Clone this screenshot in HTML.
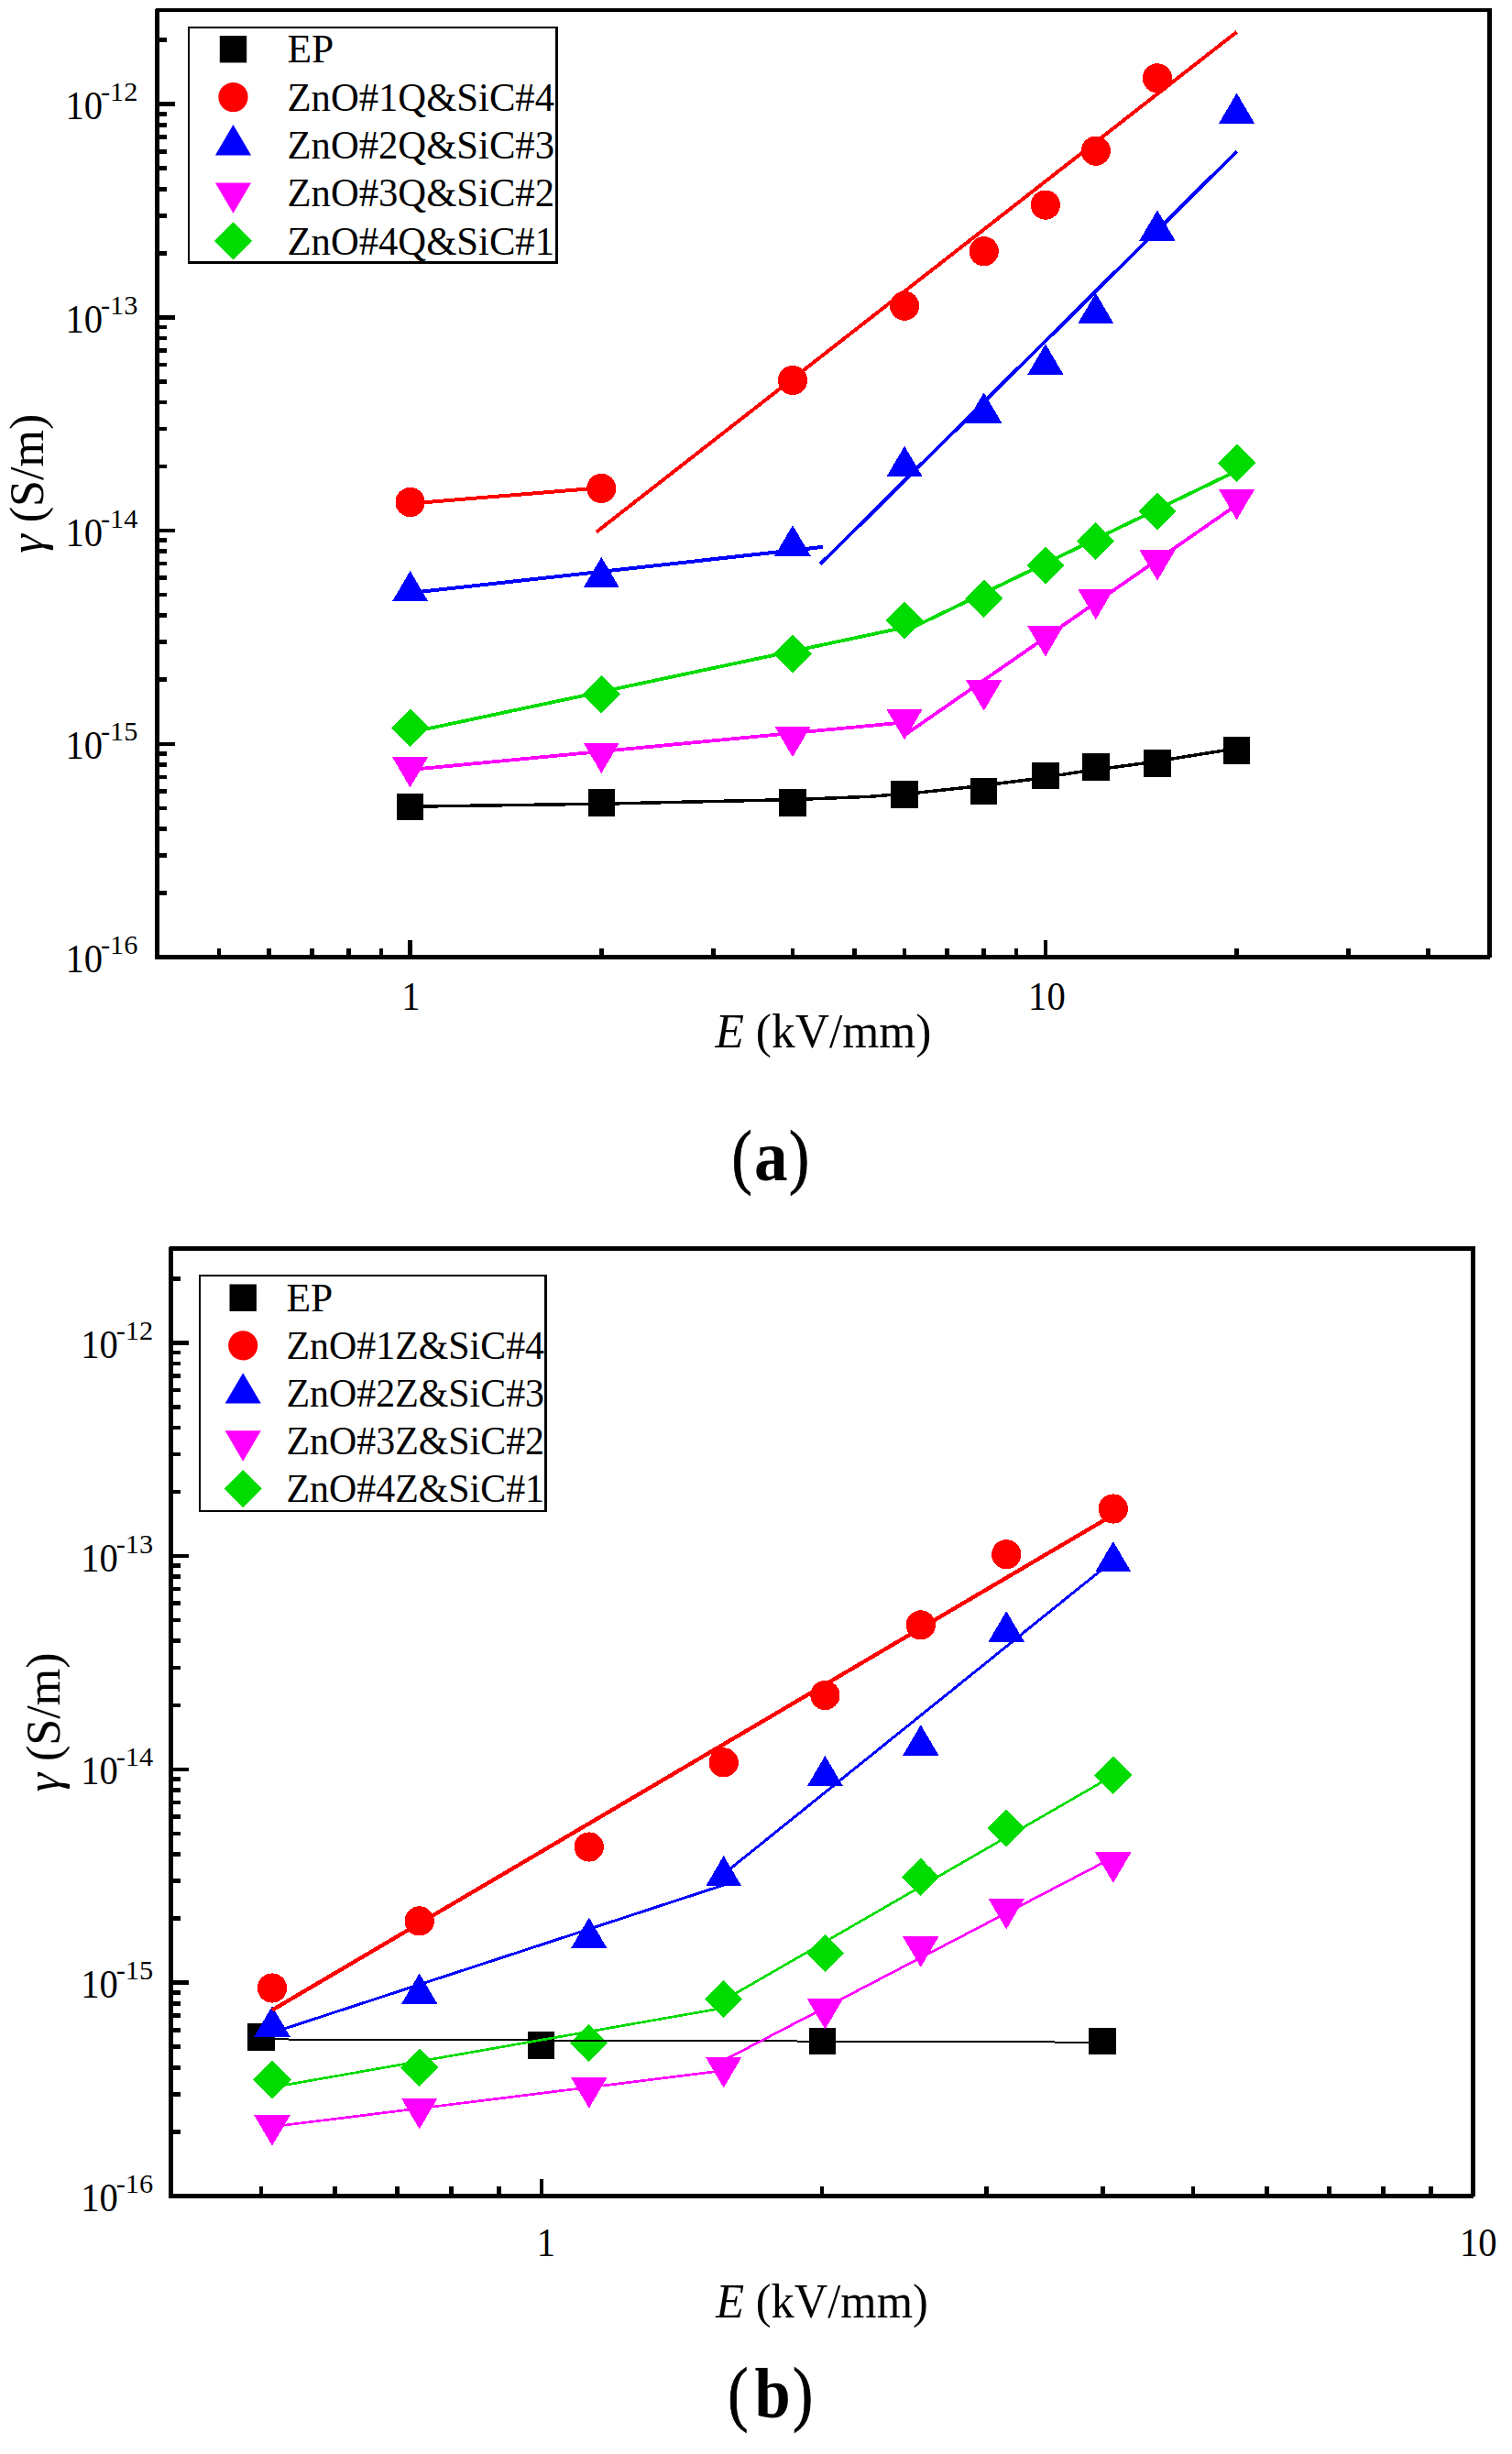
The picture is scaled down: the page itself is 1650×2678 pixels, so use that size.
<!DOCTYPE html>
<html lang="en">
<head>
<meta charset="utf-8">
<title>Conductivity vs electric field</title>
<style>
html,body{margin:0;padding:0;background:#fff;}
body{width:1650px;height:2678px;overflow:hidden;}
svg{display:block;}
svg text{font-family:"Liberation Serif", "Times New Roman", serif;fill:#000;}
</style>
</head>
<body>
<svg width="1650" height="2678" viewBox="0 0 1650 2678">
<rect width="1650" height="2678" fill="#fff"/>
<g id="plot-a">
<g shape-rendering="crispEdges">
<rect x="432.9" y="865.7" width="29.4" height="29.4" fill="#000000"/>
<rect x="641.6" y="861.3" width="29.4" height="29.4" fill="#000000"/>
<rect x="850.31" y="861.3" width="29.4" height="29.4" fill="#000000"/>
<rect x="972.39" y="852.3" width="29.4" height="29.4" fill="#000000"/>
<rect x="1059.01" y="848.6" width="29.4" height="29.4" fill="#000000"/>
<rect x="1126.2" y="832" width="29.4" height="29.4" fill="#000000"/>
<rect x="1181.1" y="822.3" width="29.4" height="29.4" fill="#000000"/>
<rect x="1248.28" y="818.4" width="29.4" height="29.4" fill="#000000"/>
<rect x="1334.9" y="804.4" width="29.4" height="29.4" fill="#000000"/>
<circle cx="447.6" cy="548" r="16.1" fill="#ff0000"/>
<circle cx="656.3" cy="533" r="16.1" fill="#ff0000"/>
<circle cx="865.01" cy="415" r="16.1" fill="#ff0000"/>
<circle cx="987.09" cy="333.7" r="16.1" fill="#ff0000"/>
<circle cx="1073.71" cy="274.2" r="16.1" fill="#ff0000"/>
<circle cx="1140.9" cy="223.6" r="16.1" fill="#ff0000"/>
<circle cx="1195.8" cy="164.7" r="16.1" fill="#ff0000"/>
<circle cx="1262.98" cy="85.3" r="16.1" fill="#ff0000"/>
<polygon points="447.6,622.93 428,656.33 467.2,656.33" fill="#0000ff"/>
<polygon points="656.3,607.83 636.7,641.23 675.9,641.23" fill="#0000ff"/>
<polygon points="865.01,573.13 845.41,606.53 884.61,606.53" fill="#0000ff"/>
<polygon points="987.09,486.73 967.49,520.13 1006.69,520.13" fill="#0000ff"/>
<polygon points="1073.71,428.23 1054.11,461.63 1093.31,461.63" fill="#0000ff"/>
<polygon points="1140.9,375.33 1121.3,408.73 1160.5,408.73" fill="#0000ff"/>
<polygon points="1195.8,319.73 1176.2,353.13 1215.4,353.13" fill="#0000ff"/>
<polygon points="1262.98,229.23 1243.38,262.63 1282.58,262.63" fill="#0000ff"/>
<polygon points="1349.6,101.43 1330,134.83 1369.2,134.83" fill="#0000ff"/>
<polygon points="447.6,859.47 428,826.07 467.2,826.07" fill="#ff00ff"/>
<polygon points="656.3,843.97 636.7,810.57 675.9,810.57" fill="#ff00ff"/>
<polygon points="865.01,826.17 845.41,792.77 884.61,792.77" fill="#ff00ff"/>
<polygon points="987.09,807.47 967.49,774.07 1006.69,774.07" fill="#ff00ff"/>
<polygon points="1073.71,775.77 1054.11,742.37 1093.31,742.37" fill="#ff00ff"/>
<polygon points="1140.9,716.57 1121.3,683.17 1160.5,683.17" fill="#ff00ff"/>
<polygon points="1195.8,676.17 1176.2,642.77 1215.4,642.77" fill="#ff00ff"/>
<polygon points="1262.98,633.67 1243.38,600.27 1282.58,600.27" fill="#ff00ff"/>
<polygon points="1349.6,567.37 1330,533.97 1369.2,533.97" fill="#ff00ff"/>
<polygon points="447.6,773.6 468.2,794.2 447.6,814.8 427,794.2" fill="#00dc00"/>
<polygon points="656.3,737.3 676.9,757.9 656.3,778.5 635.7,757.9" fill="#00dc00"/>
<polygon points="865.01,692.9 885.61,713.5 865.01,734.1 844.41,713.5" fill="#00dc00"/>
<polygon points="987.09,656.4 1007.69,677 987.09,697.6 966.49,677" fill="#00dc00"/>
<polygon points="1073.71,632.6 1094.31,653.2 1073.71,673.8 1053.11,653.2" fill="#00dc00"/>
<polygon points="1140.9,596.5 1161.5,617.1 1140.9,637.7 1120.3,617.1" fill="#00dc00"/>
<polygon points="1195.8,569.9 1216.4,590.5 1195.8,611.1 1175.2,590.5" fill="#00dc00"/>
<polygon points="1262.98,537.3 1283.58,557.9 1262.98,578.5 1242.38,557.9" fill="#00dc00"/>
<polygon points="1349.6,484.6 1370.2,505.2 1349.6,525.8 1329,505.2" fill="#00dc00"/>
<polyline fill="none" stroke="#000000" stroke-width="3.5" stroke-linejoin="round" stroke-linecap="butt" points="447.6,880.2 656.3,877.2 864.9,872.6 950,869.3 1003.6,864.8 1058.6,858.9 1125.6,850.5 1182.1,841.8 1247.6,833 1333.9,819.3 1349.6,816.6"/>
<polyline fill="none" stroke="#ff0000" stroke-width="4" stroke-linejoin="round" stroke-linecap="butt" points="447.6,549.5 656.3,532.3"/>
<polyline fill="none" stroke="#ff0000" stroke-width="4" stroke-linejoin="round" stroke-linecap="butt" points="650.8,580.6 1349.6,34.9"/>
<polyline fill="none" stroke="#0000ff" stroke-width="4" stroke-linejoin="round" stroke-linecap="butt" points="447.6,647 897.9,596.9"/>
<polyline fill="none" stroke="#0000ff" stroke-width="4" stroke-linejoin="round" stroke-linecap="butt" points="895.2,615.6 1349.6,165.5"/>
<polyline fill="none" stroke="#ff00ff" stroke-width="3.8" stroke-linejoin="round" stroke-linecap="butt" points="447.6,840 987.1,788.3"/>
<polyline fill="none" stroke="#ff00ff" stroke-width="3.8" stroke-linejoin="round" stroke-linecap="butt" points="987.1,802.3 1349.6,551"/>
<polyline fill="none" stroke="#00dc00" stroke-width="3.8" stroke-linejoin="round" stroke-linecap="butt" points="447.6,799.3 987.1,684.7"/>
<polyline fill="none" stroke="#00dc00" stroke-width="3.8" stroke-linejoin="round" stroke-linecap="butt" points="987.1,689.1 1349.6,513.9"/>
</g>
<g shape-rendering="crispEdges">
<rect x="169" y="10" width="5" height="1037" fill="#000000"/>
<rect x="1623" y="9" width="5" height="1036" fill="#000000"/>
<rect x="170" y="9" width="1458" height="4" fill="#000000"/>
<rect x="169" y="1042" width="1457" height="5" fill="#000000"/>
<line x1="171.5" y1="974.45" x2="182" y2="974.45" stroke="#000000" stroke-width="4.6" stroke-linecap="butt"/>
<line x1="171.5" y1="933.47" x2="182" y2="933.47" stroke="#000000" stroke-width="4.6" stroke-linecap="butt"/>
<line x1="171.5" y1="904.4" x2="182" y2="904.4" stroke="#000000" stroke-width="4.6" stroke-linecap="butt"/>
<line x1="171.5" y1="881.85" x2="182" y2="881.85" stroke="#000000" stroke-width="4.6" stroke-linecap="butt"/>
<line x1="171.5" y1="863.42" x2="182" y2="863.42" stroke="#000000" stroke-width="4.6" stroke-linecap="butt"/>
<line x1="171.5" y1="847.85" x2="182" y2="847.85" stroke="#000000" stroke-width="4.6" stroke-linecap="butt"/>
<line x1="171.5" y1="834.35" x2="182" y2="834.35" stroke="#000000" stroke-width="4.6" stroke-linecap="butt"/>
<line x1="171.5" y1="822.45" x2="182" y2="822.45" stroke="#000000" stroke-width="4.6" stroke-linecap="butt"/>
<line x1="171.5" y1="811.8" x2="191" y2="811.8" stroke="#000000" stroke-width="4.6" stroke-linecap="butt"/>
<line x1="171.5" y1="741.75" x2="182" y2="741.75" stroke="#000000" stroke-width="4.6" stroke-linecap="butt"/>
<line x1="171.5" y1="700.77" x2="182" y2="700.77" stroke="#000000" stroke-width="4.6" stroke-linecap="butt"/>
<line x1="171.5" y1="671.7" x2="182" y2="671.7" stroke="#000000" stroke-width="4.6" stroke-linecap="butt"/>
<line x1="171.5" y1="649.15" x2="182" y2="649.15" stroke="#000000" stroke-width="4.6" stroke-linecap="butt"/>
<line x1="171.5" y1="630.72" x2="182" y2="630.72" stroke="#000000" stroke-width="4.6" stroke-linecap="butt"/>
<line x1="171.5" y1="615.15" x2="182" y2="615.15" stroke="#000000" stroke-width="4.6" stroke-linecap="butt"/>
<line x1="171.5" y1="601.65" x2="182" y2="601.65" stroke="#000000" stroke-width="4.6" stroke-linecap="butt"/>
<line x1="171.5" y1="589.75" x2="182" y2="589.75" stroke="#000000" stroke-width="4.6" stroke-linecap="butt"/>
<line x1="171.5" y1="579.1" x2="191" y2="579.1" stroke="#000000" stroke-width="4.6" stroke-linecap="butt"/>
<line x1="171.5" y1="509.05" x2="182" y2="509.05" stroke="#000000" stroke-width="4.6" stroke-linecap="butt"/>
<line x1="171.5" y1="468.07" x2="182" y2="468.07" stroke="#000000" stroke-width="4.6" stroke-linecap="butt"/>
<line x1="171.5" y1="439" x2="182" y2="439" stroke="#000000" stroke-width="4.6" stroke-linecap="butt"/>
<line x1="171.5" y1="416.45" x2="182" y2="416.45" stroke="#000000" stroke-width="4.6" stroke-linecap="butt"/>
<line x1="171.5" y1="398.02" x2="182" y2="398.02" stroke="#000000" stroke-width="4.6" stroke-linecap="butt"/>
<line x1="171.5" y1="382.45" x2="182" y2="382.45" stroke="#000000" stroke-width="4.6" stroke-linecap="butt"/>
<line x1="171.5" y1="368.95" x2="182" y2="368.95" stroke="#000000" stroke-width="4.6" stroke-linecap="butt"/>
<line x1="171.5" y1="357.05" x2="182" y2="357.05" stroke="#000000" stroke-width="4.6" stroke-linecap="butt"/>
<line x1="171.5" y1="346.4" x2="191" y2="346.4" stroke="#000000" stroke-width="4.6" stroke-linecap="butt"/>
<line x1="171.5" y1="276.35" x2="182" y2="276.35" stroke="#000000" stroke-width="4.6" stroke-linecap="butt"/>
<line x1="171.5" y1="235.37" x2="182" y2="235.37" stroke="#000000" stroke-width="4.6" stroke-linecap="butt"/>
<line x1="171.5" y1="206.3" x2="182" y2="206.3" stroke="#000000" stroke-width="4.6" stroke-linecap="butt"/>
<line x1="171.5" y1="183.75" x2="182" y2="183.75" stroke="#000000" stroke-width="4.6" stroke-linecap="butt"/>
<line x1="171.5" y1="165.32" x2="182" y2="165.32" stroke="#000000" stroke-width="4.6" stroke-linecap="butt"/>
<line x1="171.5" y1="149.75" x2="182" y2="149.75" stroke="#000000" stroke-width="4.6" stroke-linecap="butt"/>
<line x1="171.5" y1="136.25" x2="182" y2="136.25" stroke="#000000" stroke-width="4.6" stroke-linecap="butt"/>
<line x1="171.5" y1="124.35" x2="182" y2="124.35" stroke="#000000" stroke-width="4.6" stroke-linecap="butt"/>
<line x1="171.5" y1="113.7" x2="191" y2="113.7" stroke="#000000" stroke-width="4.6" stroke-linecap="butt"/>
<line x1="171.5" y1="43.65" x2="182" y2="43.65" stroke="#000000" stroke-width="4.6" stroke-linecap="butt"/>
<line x1="238.9" y1="1044.5" x2="238.9" y2="1035" stroke="#000000" stroke-width="4.6" stroke-linecap="butt"/>
<line x1="293.79" y1="1044.5" x2="293.79" y2="1035" stroke="#000000" stroke-width="4.6" stroke-linecap="butt"/>
<line x1="340.21" y1="1044.5" x2="340.21" y2="1035" stroke="#000000" stroke-width="4.6" stroke-linecap="butt"/>
<line x1="380.41" y1="1044.5" x2="380.41" y2="1035" stroke="#000000" stroke-width="4.6" stroke-linecap="butt"/>
<line x1="415.88" y1="1044.5" x2="415.88" y2="1035" stroke="#000000" stroke-width="4.6" stroke-linecap="butt"/>
<line x1="447.6" y1="1044.5" x2="447.6" y2="1026" stroke="#000000" stroke-width="4.6" stroke-linecap="butt"/>
<line x1="656.3" y1="1044.5" x2="656.3" y2="1035" stroke="#000000" stroke-width="4.6" stroke-linecap="butt"/>
<line x1="778.39" y1="1044.5" x2="778.39" y2="1035" stroke="#000000" stroke-width="4.6" stroke-linecap="butt"/>
<line x1="865.01" y1="1044.5" x2="865.01" y2="1035" stroke="#000000" stroke-width="4.6" stroke-linecap="butt"/>
<line x1="932.2" y1="1044.5" x2="932.2" y2="1035" stroke="#000000" stroke-width="4.6" stroke-linecap="butt"/>
<line x1="987.09" y1="1044.5" x2="987.09" y2="1035" stroke="#000000" stroke-width="4.6" stroke-linecap="butt"/>
<line x1="1033.51" y1="1044.5" x2="1033.51" y2="1035" stroke="#000000" stroke-width="4.6" stroke-linecap="butt"/>
<line x1="1073.71" y1="1044.5" x2="1073.71" y2="1035" stroke="#000000" stroke-width="4.6" stroke-linecap="butt"/>
<line x1="1109.18" y1="1044.5" x2="1109.18" y2="1035" stroke="#000000" stroke-width="4.6" stroke-linecap="butt"/>
<line x1="1140.9" y1="1044.5" x2="1140.9" y2="1026" stroke="#000000" stroke-width="4.6" stroke-linecap="butt"/>
<line x1="1349.6" y1="1044.5" x2="1349.6" y2="1035" stroke="#000000" stroke-width="4.6" stroke-linecap="butt"/>
<line x1="1471.69" y1="1044.5" x2="1471.69" y2="1035" stroke="#000000" stroke-width="4.6" stroke-linecap="butt"/>
<line x1="1558.31" y1="1044.5" x2="1558.31" y2="1035" stroke="#000000" stroke-width="4.6" stroke-linecap="butt"/>
</g>
<text x="71.5" y="1060.9" font-size="43.5" text-anchor="start" textLength="40.6" lengthAdjust="spacingAndGlyphs">10</text>
<text x="109.9" y="1041" font-size="29.3" text-anchor="start" textLength="40.4" lengthAdjust="spacingAndGlyphs">-16</text>
<text x="71.5" y="828.2" font-size="43.5" text-anchor="start" textLength="40.6" lengthAdjust="spacingAndGlyphs">10</text>
<text x="109.9" y="808.3" font-size="29.3" text-anchor="start" textLength="40.4" lengthAdjust="spacingAndGlyphs">-15</text>
<text x="71.5" y="595.5" font-size="43.5" text-anchor="start" textLength="40.6" lengthAdjust="spacingAndGlyphs">10</text>
<text x="109.9" y="575.6" font-size="29.3" text-anchor="start" textLength="40.4" lengthAdjust="spacingAndGlyphs">-14</text>
<text x="71.5" y="362.8" font-size="43.5" text-anchor="start" textLength="40.6" lengthAdjust="spacingAndGlyphs">10</text>
<text x="109.9" y="342.9" font-size="29.3" text-anchor="start" textLength="40.4" lengthAdjust="spacingAndGlyphs">-13</text>
<text x="71.5" y="130.1" font-size="43.5" text-anchor="start" textLength="40.6" lengthAdjust="spacingAndGlyphs">10</text>
<text x="109.9" y="110.2" font-size="29.3" text-anchor="start" textLength="40.4" lengthAdjust="spacingAndGlyphs">-12</text>
<text x="448.4" y="1102.4" font-size="43.5" text-anchor="middle" textLength="20.3" lengthAdjust="spacingAndGlyphs">1</text>
<text x="1142.4" y="1102.4" font-size="43.5" text-anchor="middle" textLength="40.6" lengthAdjust="spacingAndGlyphs">10</text>
<text x="898.5" y="1142.9" font-size="52" text-anchor="middle" textLength="236" lengthAdjust="spacingAndGlyphs"><tspan font-style="italic">E</tspan> (kV/mm)</text>
<text transform="translate(47,527.75) rotate(-90)" font-size="52" text-anchor="middle"><tspan font-style="italic">γ</tspan> (S/m)</text>
<g shape-rendering="crispEdges">
<rect x="205" y="29" width="404" height="259" fill="#000000"/>
<rect x="207" y="31" width="399" height="254" fill="#fff"/>
</g>
<rect x="239.8" y="39" width="29.4" height="29.4" fill="#000000"/>
<text x="313.5" y="68.3" font-size="43.5" text-anchor="start">EP</text>
<circle cx="254.5" cy="106" r="16.1" fill="#ff0000"/>
<text x="313.5" y="120.6" font-size="43.5" text-anchor="start" textLength="291.5" lengthAdjust="spacingAndGlyphs">ZnO#1Q&amp;SiC#4</text>
<polygon points="254.5,136.03 234.9,169.43 274.1,169.43" fill="#0000ff"/>
<text x="313.5" y="172.9" font-size="43.5" text-anchor="start" textLength="291.5" lengthAdjust="spacingAndGlyphs">ZnO#2Q&amp;SiC#3</text>
<polygon points="254.5,232.87 234.9,199.47 274.1,199.47" fill="#ff00ff"/>
<text x="313.5" y="225.2" font-size="43.5" text-anchor="start" textLength="291.5" lengthAdjust="spacingAndGlyphs">ZnO#3Q&amp;SiC#2</text>
<polygon points="254.5,242.3 275.1,262.9 254.5,283.5 233.9,262.9" fill="#00dc00"/>
<text x="313.5" y="277.5" font-size="43.5" text-anchor="start" textLength="291.5" lengthAdjust="spacingAndGlyphs">ZnO#4Q&amp;SiC#1</text>
</g>
<text x="798.5" y="1287.7" font-size="78" text-anchor="start" textLength="22.2" lengthAdjust="spacingAndGlyphs" stroke="#000" stroke-width="0.9">(</text>
<text x="823" y="1287.7" font-size="78" text-anchor="start" font-weight="bold" textLength="36.6" lengthAdjust="spacingAndGlyphs">a</text>
<text x="861" y="1287.7" font-size="78" text-anchor="start" textLength="22.2" lengthAdjust="spacingAndGlyphs" stroke="#000" stroke-width="0.9">)</text>
<g id="plot-b">
<g shape-rendering="crispEdges">
<rect x="270.4" y="2208.2" width="29.4" height="29.4" fill="#000000"/>
<rect x="575.8" y="2217.3" width="29.4" height="29.4" fill="#000000"/>
<rect x="882.7" y="2212.7" width="29.4" height="29.4" fill="#000000"/>
<rect x="1188.3" y="2212.7" width="29.4" height="29.4" fill="#000000"/>
<circle cx="297" cy="2169.5" r="16.1" fill="#ff0000"/>
<circle cx="457.7" cy="2096.4" r="16.1" fill="#ff0000"/>
<circle cx="642.8" cy="2015.5" r="16.1" fill="#ff0000"/>
<circle cx="789.7" cy="1923.4" r="16.1" fill="#ff0000"/>
<circle cx="900.4" cy="1850" r="16.1" fill="#ff0000"/>
<circle cx="1004.8" cy="1773.4" r="16.1" fill="#ff0000"/>
<circle cx="1098.2" cy="1696.3" r="16.1" fill="#ff0000"/>
<circle cx="1214.8" cy="1646.5" r="16.1" fill="#ff0000"/>
<polygon points="297,2189.13 277.4,2222.53 316.6,2222.53" fill="#0000ff"/>
<polygon points="457.7,2153.43 438.1,2186.83 477.3,2186.83" fill="#0000ff"/>
<polygon points="642.8,2092.53 623.2,2125.93 662.4,2125.93" fill="#0000ff"/>
<polygon points="789.7,2025.03 770.1,2058.43 809.3,2058.43" fill="#0000ff"/>
<polygon points="900.4,1915.93 880.8,1949.33 920,1949.33" fill="#0000ff"/>
<polygon points="1004.8,1882.23 985.2,1915.63 1024.4,1915.63" fill="#0000ff"/>
<polygon points="1098.2,1758.13 1078.6,1791.53 1117.8,1791.53" fill="#0000ff"/>
<polygon points="1214.8,1682.03 1195.2,1715.43 1234.4,1715.43" fill="#0000ff"/>
<polygon points="297,2341.77 277.4,2308.37 316.6,2308.37" fill="#ff00ff"/>
<polygon points="457.7,2323.47 438.1,2290.07 477.3,2290.07" fill="#ff00ff"/>
<polygon points="642.8,2300.77 623.2,2267.37 662.4,2267.37" fill="#ff00ff"/>
<polygon points="789.7,2278.47 770.1,2245.07 809.3,2245.07" fill="#ff00ff"/>
<polygon points="900.4,2214.67 880.8,2181.27 920,2181.27" fill="#ff00ff"/>
<polygon points="1004.8,2146.87 985.2,2113.47 1024.4,2113.47" fill="#ff00ff"/>
<polygon points="1098.2,2105.47 1078.6,2072.07 1117.8,2072.07" fill="#ff00ff"/>
<polygon points="1214.8,2054.87 1195.2,2021.47 1234.4,2021.47" fill="#ff00ff"/>
<polygon points="297,2249 317.6,2269.6 297,2290.2 276.4,2269.6" fill="#00dc00"/>
<polygon points="457.7,2235.6 478.3,2256.2 457.7,2276.8 437.1,2256.2" fill="#00dc00"/>
<polygon points="642.8,2209 663.4,2229.6 642.8,2250.2 622.2,2229.6" fill="#00dc00"/>
<polygon points="789.7,2160.8 810.3,2181.4 789.7,2202 769.1,2181.4" fill="#00dc00"/>
<polygon points="900.4,2110.7 921,2131.3 900.4,2151.9 879.8,2131.3" fill="#00dc00"/>
<polygon points="1004.8,2027.8 1025.4,2048.4 1004.8,2069 984.2,2048.4" fill="#00dc00"/>
<polygon points="1098.2,1974.6 1118.8,1995.2 1098.2,2015.8 1077.6,1995.2" fill="#00dc00"/>
<polygon points="1214.8,1916.7 1235.4,1937.3 1214.8,1957.9 1194.2,1937.3" fill="#00dc00"/>
<polyline fill="none" stroke="#000000" stroke-width="2" stroke-linejoin="round" stroke-linecap="butt" points="285.1,2225.4 1203,2228.7"/>
<polyline fill="none" stroke="#ff0000" stroke-width="4.4" stroke-linejoin="round" stroke-linecap="butt" points="297,2193.6 1214.7,1653.2"/>
<polyline fill="none" stroke="#0000ff" stroke-width="3" stroke-linejoin="round" stroke-linecap="butt" points="297,2218.3 789.7,2057.1"/>
<polyline fill="none" stroke="#0000ff" stroke-width="3" stroke-linejoin="round" stroke-linecap="butt" points="789.7,2045.1 1214.7,1703"/>
<polyline fill="none" stroke="#00dc00" stroke-width="2.7" stroke-linejoin="round" stroke-linecap="butt" points="297,2277.8 789.7,2191.2"/>
<polyline fill="none" stroke="#00dc00" stroke-width="2.7" stroke-linejoin="round" stroke-linecap="butt" points="789.7,2182.9 1214.7,1937.7"/>
<polyline fill="none" stroke="#ff00ff" stroke-width="2.7" stroke-linejoin="round" stroke-linecap="butt" points="297,2320.8 789.7,2259.6"/>
<polyline fill="none" stroke="#ff00ff" stroke-width="2.7" stroke-linejoin="round" stroke-linecap="butt" points="789.7,2248.5 1214.7,2027"/>
</g>
<g shape-rendering="crispEdges">
<rect x="184" y="1361" width="5" height="1038" fill="#000000"/>
<rect x="1605" y="1360" width="5" height="1037" fill="#000000"/>
<rect x="185" y="1360" width="1425" height="5" fill="#000000"/>
<rect x="184" y="2394" width="1424" height="5" fill="#000000"/>
<line x1="186.5" y1="2326.42" x2="197" y2="2326.42" stroke="#000000" stroke-width="4.6" stroke-linecap="butt"/>
<line x1="186.5" y1="2285.43" x2="197" y2="2285.43" stroke="#000000" stroke-width="4.6" stroke-linecap="butt"/>
<line x1="186.5" y1="2256.34" x2="197" y2="2256.34" stroke="#000000" stroke-width="4.6" stroke-linecap="butt"/>
<line x1="186.5" y1="2233.78" x2="197" y2="2233.78" stroke="#000000" stroke-width="4.6" stroke-linecap="butt"/>
<line x1="186.5" y1="2215.35" x2="197" y2="2215.35" stroke="#000000" stroke-width="4.6" stroke-linecap="butt"/>
<line x1="186.5" y1="2199.76" x2="197" y2="2199.76" stroke="#000000" stroke-width="4.6" stroke-linecap="butt"/>
<line x1="186.5" y1="2186.26" x2="197" y2="2186.26" stroke="#000000" stroke-width="4.6" stroke-linecap="butt"/>
<line x1="186.5" y1="2174.35" x2="197" y2="2174.35" stroke="#000000" stroke-width="4.6" stroke-linecap="butt"/>
<line x1="186.5" y1="2163.7" x2="206" y2="2163.7" stroke="#000000" stroke-width="4.6" stroke-linecap="butt"/>
<line x1="186.5" y1="2093.62" x2="197" y2="2093.62" stroke="#000000" stroke-width="4.6" stroke-linecap="butt"/>
<line x1="186.5" y1="2052.63" x2="197" y2="2052.63" stroke="#000000" stroke-width="4.6" stroke-linecap="butt"/>
<line x1="186.5" y1="2023.54" x2="197" y2="2023.54" stroke="#000000" stroke-width="4.6" stroke-linecap="butt"/>
<line x1="186.5" y1="2000.98" x2="197" y2="2000.98" stroke="#000000" stroke-width="4.6" stroke-linecap="butt"/>
<line x1="186.5" y1="1982.55" x2="197" y2="1982.55" stroke="#000000" stroke-width="4.6" stroke-linecap="butt"/>
<line x1="186.5" y1="1966.96" x2="197" y2="1966.96" stroke="#000000" stroke-width="4.6" stroke-linecap="butt"/>
<line x1="186.5" y1="1953.46" x2="197" y2="1953.46" stroke="#000000" stroke-width="4.6" stroke-linecap="butt"/>
<line x1="186.5" y1="1941.55" x2="197" y2="1941.55" stroke="#000000" stroke-width="4.6" stroke-linecap="butt"/>
<line x1="186.5" y1="1930.9" x2="206" y2="1930.9" stroke="#000000" stroke-width="4.6" stroke-linecap="butt"/>
<line x1="186.5" y1="1860.82" x2="197" y2="1860.82" stroke="#000000" stroke-width="4.6" stroke-linecap="butt"/>
<line x1="186.5" y1="1819.83" x2="197" y2="1819.83" stroke="#000000" stroke-width="4.6" stroke-linecap="butt"/>
<line x1="186.5" y1="1790.74" x2="197" y2="1790.74" stroke="#000000" stroke-width="4.6" stroke-linecap="butt"/>
<line x1="186.5" y1="1768.18" x2="197" y2="1768.18" stroke="#000000" stroke-width="4.6" stroke-linecap="butt"/>
<line x1="186.5" y1="1749.75" x2="197" y2="1749.75" stroke="#000000" stroke-width="4.6" stroke-linecap="butt"/>
<line x1="186.5" y1="1734.16" x2="197" y2="1734.16" stroke="#000000" stroke-width="4.6" stroke-linecap="butt"/>
<line x1="186.5" y1="1720.66" x2="197" y2="1720.66" stroke="#000000" stroke-width="4.6" stroke-linecap="butt"/>
<line x1="186.5" y1="1708.75" x2="197" y2="1708.75" stroke="#000000" stroke-width="4.6" stroke-linecap="butt"/>
<line x1="186.5" y1="1698.1" x2="206" y2="1698.1" stroke="#000000" stroke-width="4.6" stroke-linecap="butt"/>
<line x1="186.5" y1="1628.02" x2="197" y2="1628.02" stroke="#000000" stroke-width="4.6" stroke-linecap="butt"/>
<line x1="186.5" y1="1587.03" x2="197" y2="1587.03" stroke="#000000" stroke-width="4.6" stroke-linecap="butt"/>
<line x1="186.5" y1="1557.94" x2="197" y2="1557.94" stroke="#000000" stroke-width="4.6" stroke-linecap="butt"/>
<line x1="186.5" y1="1535.38" x2="197" y2="1535.38" stroke="#000000" stroke-width="4.6" stroke-linecap="butt"/>
<line x1="186.5" y1="1516.95" x2="197" y2="1516.95" stroke="#000000" stroke-width="4.6" stroke-linecap="butt"/>
<line x1="186.5" y1="1501.36" x2="197" y2="1501.36" stroke="#000000" stroke-width="4.6" stroke-linecap="butt"/>
<line x1="186.5" y1="1487.86" x2="197" y2="1487.86" stroke="#000000" stroke-width="4.6" stroke-linecap="butt"/>
<line x1="186.5" y1="1475.95" x2="197" y2="1475.95" stroke="#000000" stroke-width="4.6" stroke-linecap="butt"/>
<line x1="186.5" y1="1465.3" x2="206" y2="1465.3" stroke="#000000" stroke-width="4.6" stroke-linecap="butt"/>
<line x1="186.5" y1="1395.22" x2="197" y2="1395.22" stroke="#000000" stroke-width="4.6" stroke-linecap="butt"/>
<line x1="284.85" y1="2396.5" x2="284.85" y2="2386" stroke="#000000" stroke-width="4.6" stroke-linecap="butt"/>
<line x1="365.38" y1="2396.5" x2="365.38" y2="2386" stroke="#000000" stroke-width="4.6" stroke-linecap="butt"/>
<line x1="433.46" y1="2396.5" x2="433.46" y2="2386" stroke="#000000" stroke-width="4.6" stroke-linecap="butt"/>
<line x1="492.44" y1="2396.5" x2="492.44" y2="2386" stroke="#000000" stroke-width="4.6" stroke-linecap="butt"/>
<line x1="544.46" y1="2396.5" x2="544.46" y2="2386" stroke="#000000" stroke-width="4.6" stroke-linecap="butt"/>
<line x1="591" y1="2396.5" x2="591" y2="2377.5" stroke="#000000" stroke-width="4.6" stroke-linecap="butt"/>
<line x1="897.15" y1="2396.5" x2="897.15" y2="2386" stroke="#000000" stroke-width="4.6" stroke-linecap="butt"/>
<line x1="1076.23" y1="2396.5" x2="1076.23" y2="2386" stroke="#000000" stroke-width="4.6" stroke-linecap="butt"/>
<line x1="1203.3" y1="2396.5" x2="1203.3" y2="2386" stroke="#000000" stroke-width="4.6" stroke-linecap="butt"/>
<line x1="1301.85" y1="2396.5" x2="1301.85" y2="2386" stroke="#000000" stroke-width="4.6" stroke-linecap="butt"/>
<line x1="1382.38" y1="2396.5" x2="1382.38" y2="2386" stroke="#000000" stroke-width="4.6" stroke-linecap="butt"/>
<line x1="1450.46" y1="2396.5" x2="1450.46" y2="2386" stroke="#000000" stroke-width="4.6" stroke-linecap="butt"/>
<line x1="1509.44" y1="2396.5" x2="1509.44" y2="2386" stroke="#000000" stroke-width="4.6" stroke-linecap="butt"/>
<line x1="1561.46" y1="2396.5" x2="1561.46" y2="2386" stroke="#000000" stroke-width="4.6" stroke-linecap="butt"/>
</g>
<text x="88.3" y="2412.9" font-size="43.5" text-anchor="start" textLength="40.6" lengthAdjust="spacingAndGlyphs">10</text>
<text x="126.7" y="2393" font-size="29.3" text-anchor="start" textLength="40.4" lengthAdjust="spacingAndGlyphs">-16</text>
<text x="88.3" y="2180.1" font-size="43.5" text-anchor="start" textLength="40.6" lengthAdjust="spacingAndGlyphs">10</text>
<text x="126.7" y="2160.2" font-size="29.3" text-anchor="start" textLength="40.4" lengthAdjust="spacingAndGlyphs">-15</text>
<text x="88.3" y="1947.3" font-size="43.5" text-anchor="start" textLength="40.6" lengthAdjust="spacingAndGlyphs">10</text>
<text x="126.7" y="1927.4" font-size="29.3" text-anchor="start" textLength="40.4" lengthAdjust="spacingAndGlyphs">-14</text>
<text x="88.3" y="1714.5" font-size="43.5" text-anchor="start" textLength="40.6" lengthAdjust="spacingAndGlyphs">10</text>
<text x="126.7" y="1694.6" font-size="29.3" text-anchor="start" textLength="40.4" lengthAdjust="spacingAndGlyphs">-13</text>
<text x="88.3" y="1481.7" font-size="43.5" text-anchor="start" textLength="40.6" lengthAdjust="spacingAndGlyphs">10</text>
<text x="126.7" y="1461.8" font-size="29.3" text-anchor="start" textLength="40.4" lengthAdjust="spacingAndGlyphs">-12</text>
<text x="596" y="2462.1" font-size="43.5" text-anchor="middle" textLength="20.3" lengthAdjust="spacingAndGlyphs">1</text>
<text x="1613.2" y="2462.1" font-size="43.5" text-anchor="middle" textLength="40.6" lengthAdjust="spacingAndGlyphs">10</text>
<text x="897" y="2528.7" font-size="52" text-anchor="middle" textLength="231.5" lengthAdjust="spacingAndGlyphs"><tspan font-style="italic">E</tspan> (kV/mm)</text>
<text transform="translate(64.5,1879.5) rotate(-90)" font-size="52" text-anchor="middle"><tspan font-style="italic">γ</tspan> (S/m)</text>
<g shape-rendering="crispEdges">
<rect x="217" y="1391" width="380" height="259" fill="#000000"/>
<rect x="219" y="1393" width="375" height="255" fill="#fff"/>
</g>
<rect x="250.5" y="1401.5" width="29.4" height="29.4" fill="#000000"/>
<text x="312.5" y="1430.8" font-size="43.5" text-anchor="start">EP</text>
<circle cx="265.2" cy="1468.3" r="16.1" fill="#ff0000"/>
<text x="312.5" y="1482.9" font-size="43.5" text-anchor="start" textLength="281.5" lengthAdjust="spacingAndGlyphs">ZnO#1Z&amp;SiC#4</text>
<polygon points="265.2,1498.13 245.6,1531.53 284.8,1531.53" fill="#0000ff"/>
<text x="312.5" y="1535" font-size="43.5" text-anchor="start" textLength="281.5" lengthAdjust="spacingAndGlyphs">ZnO#2Z&amp;SiC#3</text>
<polygon points="265.2,1594.77 245.6,1561.37 284.8,1561.37" fill="#ff00ff"/>
<text x="312.5" y="1587.1" font-size="43.5" text-anchor="start" textLength="281.5" lengthAdjust="spacingAndGlyphs">ZnO#3Z&amp;SiC#2</text>
<polygon points="265.2,1604 285.8,1624.6 265.2,1645.2 244.6,1624.6" fill="#00dc00"/>
<text x="312.5" y="1639.2" font-size="43.5" text-anchor="start" textLength="281.5" lengthAdjust="spacingAndGlyphs">ZnO#4Z&amp;SiC#1</text>
</g>
<text x="794.3" y="2638.4" font-size="78" text-anchor="start" textLength="22.2" lengthAdjust="spacingAndGlyphs" stroke="#000" stroke-width="0.9">(</text>
<text x="823.5" y="2638.4" font-size="78" text-anchor="start" font-weight="bold" textLength="39.2" lengthAdjust="spacingAndGlyphs">b</text>
<text x="865" y="2638.4" font-size="78" text-anchor="start" textLength="22.2" lengthAdjust="spacingAndGlyphs" stroke="#000" stroke-width="0.9">)</text>
</svg>
</body>
</html>
